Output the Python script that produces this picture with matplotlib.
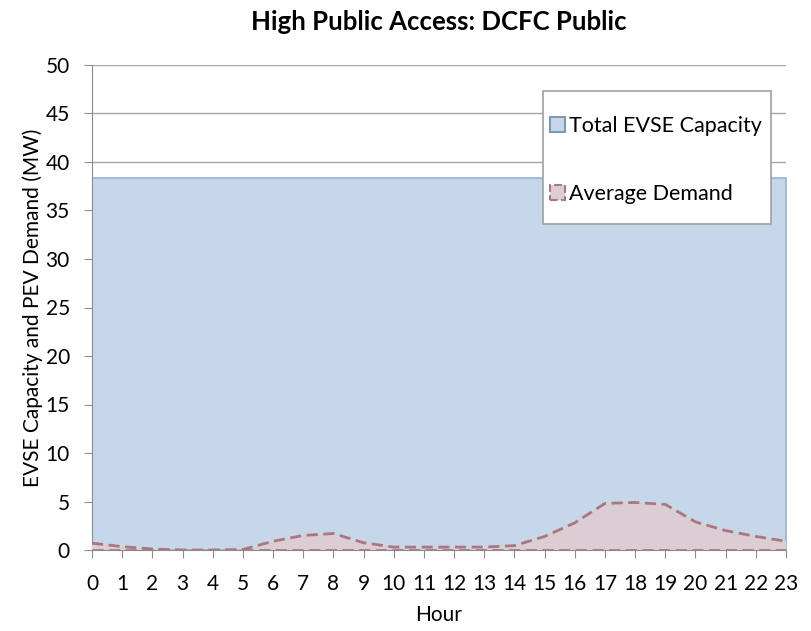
import numpy as np
import matplotlib.pyplot as plt
from matplotlib.patches import Patch, Rectangle

plt.rcParams['font.family'] = ['Lato', 'DejaVu Sans']

hours = list(range(24))
capacity = [38.3] * 24
demand = [0.7, 0.35, 0.1, 0.0, 0.0, 0.05, 0.9, 1.5, 1.7, 0.75, 0.3, 0.3,
          0.3, 0.3, 0.45, 1.4, 2.8, 4.8, 4.9, 4.7, 2.9, 2.0, 1.4, 0.9]

fig = plt.figure(figsize=(8.11, 6.31), dpi=100)
ax = fig.add_axes([92 / 811, 1 - 550 / 631, (786 - 92) / 811, (550 - 65) / 631])

cap_face = '#c6d7e9'
cap_edge = '#95b0cf'
dem_face = '#dccdd5'
dem_edge = '#a9777f'

ax.fill_between(hours, 0, capacity, facecolor=cap_face, edgecolor=cap_edge, linewidth=1.2, zorder=2)
ax.fill_between(hours, 0, demand, facecolor=dem_face, edgecolor='none', zorder=3)
ax.plot(hours, demand, color=dem_edge, linestyle=(0, (4, 2)), linewidth=2, zorder=4)
ax.plot(hours, [0] * 24, color=dem_edge, linestyle=(0, (4, 2)), linewidth=2, zorder=4)

ax.set_xlim(0, 23)
ax.set_ylim(0, 50)
ax.set_xticks(hours)
ax.set_yticks(np.arange(0, 51, 5))
ax.yaxis.grid(True, color='#a6a6a6', linewidth=1)
ax.set_axisbelow(True)
for s in ['top', 'right']:
    ax.spines[s].set_visible(False)
ax.spines['left'].set_color('#8c8c8c')
ax.spines['bottom'].set_color('#8c8c8c')
ax.tick_params(axis='both', direction='out', length=6, color='#8c8c8c', labelsize=15)
ax.tick_params(axis='x', pad=11)
ax.tick_params(axis='y', pad=10)

ax.set_xlabel('Hour', fontsize=15, labelpad=8)
ax.set_ylabel('EVSE Capacity and PEV Demand (MW)', fontsize=15, labelpad=2)
ax.set_title('High Public Access: DCFC Public', fontsize=18.5, fontweight='bold', pad=25)

# legend frame drawn by hand so the padding can differ horizontally and vertically
frame = Rectangle(((543 - 92) / 694, (550 - 224) / 485), 228 / 694, 133 / 485,
                  transform=ax.transAxes, facecolor='white', edgecolor='#a0a0a0',
                  linewidth=1.2, zorder=9)
ax.add_patch(frame)

handles = [Patch(facecolor=cap_face, edgecolor='#7f98b6', linewidth=1.5),
           Patch(facecolor=dem_face, edgecolor=dem_edge, linestyle='--', linewidth=1.5)]
leg = ax.legend(handles, ['Total EVSE Capacity', 'Average Demand'],
                loc='center left', bbox_to_anchor=((550 - 92) / 694, (550 - 160) / 485),
                fontsize=15.5, frameon=False,
                handlelength=0.7, handleheight=0.7, handletextpad=0.2,
                labelspacing=2.2, borderpad=0, borderaxespad=0)
leg.set_zorder(10)

fig.savefig('out.png', dpi=100)
